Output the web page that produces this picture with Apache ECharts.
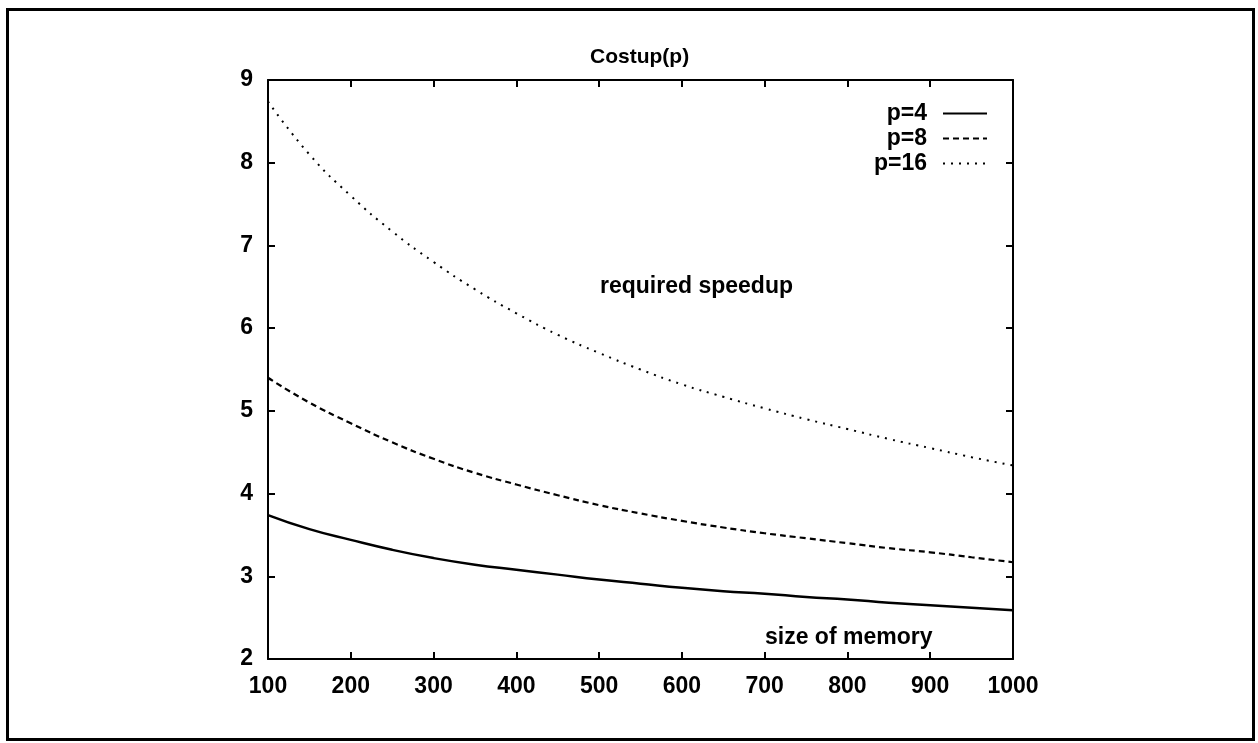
<!DOCTYPE html>
<html>
<head>
<meta charset="utf-8">
<script src="https://cdn.jsdelivr.net/npm/echarts@6/dist/echarts.min.js"></script>
<style>
html,body{margin:0;padding:0;background:#fff;}
#chart{width:1258px;height:743px;}
</style>
</head>
<body>
<div id="chart"></div>
<script>
var memorySizes = [100,150,200,250,300,350,400,450,500,550,600,650,700,750,800,850,900,950,1000];
var costupP4  = [3.74,3.57,3.44,3.32,3.22,3.14,3.08,3.02,2.96,2.91,2.86,2.82,2.79,2.75,2.72,2.68,2.65,2.62,2.59];
var costupP8  = [5.40,5.10,4.85,4.62,4.42,4.25,4.11,3.98,3.86,3.76,3.67,3.59,3.52,3.46,3.40,3.34,3.29,3.23,3.17];
var costupP16 = [8.74,8.10,7.60,7.17,6.80,6.47,6.18,5.92,5.70,5.50,5.32,5.17,5.03,4.90,4.78,4.66,4.55,4.44,4.34];
var seriesNames = ['p=4','p=8','p=16'];
var titleText = 'Costup(p)';
var insideLabelTop = 'required speedup';
var insideLabelBottom = 'size of memory';

function pairs(xs, ys){ return xs.map(function(x,i){ return [x, ys[i]]; }); }

var FONT = '"Liberation Sans", Arial, Helvetica, sans-serif';
var chart = echarts.init(document.getElementById('chart'), null, {renderer:'canvas'});
var axisLine = {show:true, lineStyle:{color:'#000', width:2}};
var axisTick = {show:true, inside:true, length:7, lineStyle:{color:'#000', width:2}};
var labelStyle = {color:'#000', fontFamily:FONT, fontSize:23, fontWeight:'bold'};

chart.setOption({
  backgroundColor:'#fff',
  animation:false,
  title:{
    text:titleText, left:585, top:42,
    textStyle:{color:'#000', fontFamily:FONT, fontSize:21, fontWeight:'bold'}
  },
  legend:{
    orient:'vertical', right:270, top:102, align:'right', padding:0,
    itemWidth:44, itemHeight:10, itemGap:2,
    itemStyle:{opacity:0},
    textStyle:{color:'#000', fontFamily:FONT, fontSize:23, fontWeight:'bold', lineHeight:22, padding:[0,11,0,0]},
    data:seriesNames
  },
  grid:{left:268, right:245, top:80, bottom:84, containLabel:false},
  xAxis:[
    {type:'value', min:100, max:1000, interval:100, position:'bottom',
     axisLine:axisLine, axisTick:axisTick, splitLine:{show:false},
     axisLabel:Object.assign({margin:16, formatter:function(v){return String(v);}}, labelStyle)},
    {type:'value', min:100, max:1000, interval:100, position:'top',
     axisLine:axisLine, axisTick:axisTick, splitLine:{show:false},
     axisLabel:{show:false}}
  ],
  yAxis:[
    {type:'value', min:2, max:9, interval:1, position:'left',
     axisLine:axisLine, axisTick:axisTick, splitLine:{show:false},
     axisLabel:Object.assign({margin:15}, labelStyle)},
    {type:'value', min:2, max:9, interval:1, position:'right',
     axisLine:axisLine, axisTick:axisTick, splitLine:{show:false},
     axisLabel:{show:false}}
  ],
  graphic:[
    {type:'rect', left:5, top:7, shape:{width:1246, height:730},
     style:{fill:'none', stroke:'#000', lineWidth:3}, silent:true},
    {type:'text', left:600, top:275,
     style:{text:insideLabelTop, fill:'#000', font:'bold 23px '+FONT}},
    {type:'text', left:765, top:626,
     style:{text:insideLabelBottom, fill:'#000', font:'bold 23px '+FONT}}
  ],
  series:[
    {name:seriesNames[0], type:'line', data:pairs(memorySizes,costupP4), symbol:'none', smooth:true,
     lineStyle:{color:'#000', width:2.5, type:'solid'}, itemStyle:{color:'#000'}},
    {name:seriesNames[1], type:'line', data:pairs(memorySizes,costupP8), symbol:'none', smooth:true,
     lineStyle:{color:'#000', width:2.2, type:[6,4]}, itemStyle:{color:'#000'}},
    {name:seriesNames[2], type:'line', data:pairs(memorySizes,costupP16), symbol:'none', smooth:true,
     lineStyle:{color:'#000', width:2, type:[2,6]}, itemStyle:{color:'#000'}}
  ]
});
</script>
</body>
</html>
